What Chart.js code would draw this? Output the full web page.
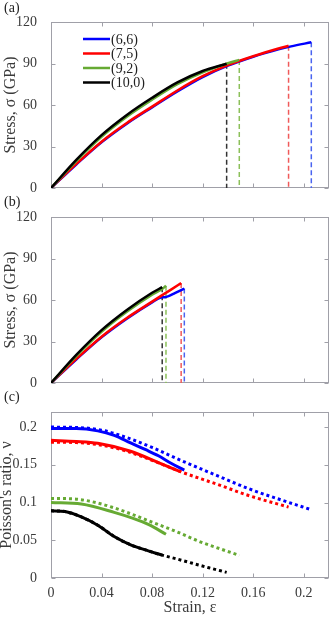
<!DOCTYPE html>
<html>
<head>
<meta charset="utf-8">
<script src="https://cdn.jsdelivr.net/npm/chart.js@4.4.1/dist/chart.umd.min.js"></script>
<style>
  html, body { margin: 0; padding: 0; background: #fff; }
  #wrap { position: relative; width: 330px; height: 618px; overflow: hidden; }
  canvas { position: absolute; left: 0; }
  .tag { position: absolute; left: 4px; font: 14px 'Liberation Serif', serif; color: #222; line-height: 14px; }
</style>
</head>
<body>
<div id="wrap">
  <canvas id="chartA" width="330" height="203" style="top:0"></canvas>
  <canvas id="chartB" width="330" height="198" style="top:200px"></canvas>
  <canvas id="chartC" width="330" height="223" style="top:395px"></canvas>
  <div class="tag" style="top:1px">(a)</div>
  <div class="tag" style="top:195px">(b)</div>
  <div class="tag" style="top:390px">(c)</div>
</div>
<script>
  'use strict';

  // ---- data ----
  const TUBES = ['(6,6)', '(7,5)', '(9,2)', '(10,0)'];
  const COLORS = ['#0000ff', '#ff0000', '#66aa33', '#000000'];
  const DASH_COLORS = ['#4a64f0', '#f05a5a', '#8cc05a', '#333333'];

  const X_TICKS = [0, 0.04, 0.08, 0.12, 0.16, 0.2];
  const X_TICK_LABELS = ['0', '0.04', '0.08', '0.12', '0.16', '0.2'];
  const STRESS_TICKS = [0, 30, 60, 90, 120];
  const NU_TICKS = [0, 0.05, 0.1, 0.15, 0.2];
  const NU_TICK_LABELS = ['0', '0.05', '0.1', '0.15', '0.2'];

  // (a) stress-strain
  const A_EPS_66 = [0, 0.02, 0.04, 0.06, 0.08, 0.10, 0.12, 0.14, 0.16, 0.18, 0.19, 0.206];
  const A_SIG_66 = [0, 17, 33, 46.5, 58.3, 69.8, 80.2, 88.4, 94.9, 100.2, 102.4, 105.3];
  const A_EPS_75 = [0, 0.02, 0.04, 0.06, 0.08, 0.10, 0.12, 0.14, 0.16, 0.18, 0.188];
  const A_SIG_75 = [0, 17.4, 33.5, 47, 58.8, 70.5, 80.8, 88.8, 95.2, 100.8, 102.8];
  const A_EPS_92 = [0, 0.02, 0.04, 0.06, 0.08, 0.10, 0.12, 0.14, 0.149];
  const A_SIG_92 = [0, 19.5, 37, 51.5, 63.8, 75, 83.6, 90.2, 92.6];
  const A_EPS_100 = [0, 0.02, 0.04, 0.06, 0.08, 0.10, 0.12, 0.139];
  const A_SIG_100 = [0, 20.3, 38.2, 52.8, 65.2, 76.3, 84.6, 89.8];

  // (b) stress-strain
  const B_EPS_66 = [0, 0.02, 0.04, 0.06, 0.08, 0.087, 0.09, 0.093, 0.098, 0.103, 0.1055];
  const B_SIG_66 = [0, 17, 33, 46.5, 58.3, 61.8, 62, 62.8, 65, 67.2, 68.3];
  const B_EPS_75 = [0, 0.02, 0.04, 0.06, 0.08, 0.088, 0.095, 0.103];
  const B_SIG_75 = [0, 17.4, 33.5, 47, 58.8, 63.5, 67.5, 72.2];
  const B_EPS_92 = [0, 0.02, 0.04, 0.06, 0.08, 0.088, 0.091];
  const B_SIG_92 = [0, 19.5, 37, 51.5, 63.8, 68, 70.3];
  const B_EPS_100 = [0, 0.02, 0.04, 0.06, 0.08, 0.088];
  const B_SIG_100 = [0, 20.3, 38.2, 52.8, 65.2, 69.3];

  // (c) Poisson's ratio, solid = case (b), dotted = case (a)
  const C_EPS_66 = [0, 0.02, 0.037, 0.05, 0.063, 0.075, 0.085, 0.095, 0.1055];
  const C_NU_66 = [0.198, 0.198, 0.195, 0.189, 0.179, 0.17, 0.162, 0.152, 0.143];
  const C_EPS_75 = [0, 0.02, 0.037, 0.063, 0.085, 0.095, 0.103];
  const C_NU_75 = [0.1825, 0.181, 0.1785, 0.168, 0.153, 0.146, 0.1405];
  const C_EPS_92 = [0, 0.024, 0.05, 0.065, 0.077, 0.091];
  const C_NU_92 = [0.1, 0.098, 0.087, 0.079, 0.071, 0.058];
  const C_EPS_100 = [0, 0.011, 0.024, 0.037, 0.05, 0.063, 0.077, 0.088];
  const C_NU_100 = [0.089, 0.088, 0.081, 0.07, 0.055, 0.044, 0.036, 0.0303];

  const CD_EPS_66 = [0, 0.02, 0.04, 0.06, 0.08, 0.104, 0.131, 0.157, 0.183, 0.206];
  const CD_NU_66 = [0.2, 0.1995, 0.196, 0.186, 0.173, 0.155, 0.136, 0.118, 0.103, 0.0905];
  const CD_EPS_75 = [0, 0.02, 0.04, 0.06, 0.08, 0.104, 0.131, 0.157, 0.188];
  const CD_NU_75 = [0.18, 0.1795, 0.176, 0.168, 0.156, 0.14, 0.1245, 0.109, 0.094];
  const CD_EPS_92 = [0, 0.02, 0.04, 0.06, 0.08, 0.1, 0.118, 0.135, 0.149];
  const CD_NU_92 = [0.1055, 0.1045, 0.098, 0.087, 0.074, 0.061, 0.048, 0.038, 0.03];
  const CD_EPS_100 = [0, 0.011, 0.024, 0.037, 0.05, 0.063, 0.077, 0.088, 0.1, 0.112, 0.125, 0.139];
  const CD_NU_100 = [0.089, 0.088, 0.081, 0.07, 0.055, 0.044, 0.036, 0.0303, 0.025, 0.0195, 0.0135, 0.0075];

  // ---- helpers ----
  const FONT = "'Liberation Serif', 'Times New Roman', serif";
  const TEXT = '#3a3a3a';
  const AXIS = '#a0a0a8';

  const pts = (xs, ys) => xs.map((x, i) => ({ x, y: ys[i] }));

  // Boxed axes with inward tick marks on all four sides.
  const frame = {
    id: 'frame',
    beforeDatasetsDraw(chart) {
      const { ctx, chartArea: a, scales } = chart;
      const L = Math.round(a.left) + 0.5, R = Math.round(a.right) - 0.5;
      const T = Math.round(a.top) + 0.5, B = Math.round(a.bottom) - 0.5;
      ctx.save();
      ctx.strokeStyle = AXIS;
      ctx.lineWidth = 1;
      ctx.strokeRect(L, T, R - L, B - T);
      ctx.beginPath();
      scales.x.ticks.forEach((t) => {
        const px = Math.round(scales.x.getPixelForValue(t.value)) + 0.5;
        ctx.moveTo(px, B); ctx.lineTo(px, B - 4);
        ctx.moveTo(px, T); ctx.lineTo(px, T + 4);
      });
      scales.y.ticks.forEach((t) => {
        const py = Math.round(scales.y.getPixelForValue(t.value)) + 0.5;
        ctx.moveTo(L, py); ctx.lineTo(L + 4, py);
        ctx.moveTo(R, py); ctx.lineTo(R - 4, py);
      });
      ctx.stroke();
      ctx.restore();
    },
  };

  // x-axis title centred under the plot box (panel c only)
  const strainTitle = {
    id: 'strainTitle',
    afterDraw(chart) {
      const { ctx, chartArea: a } = chart;
      ctx.save();
      ctx.font = '16px ' + FONT;
      ctx.fillStyle = TEXT;
      ctx.textAlign = 'center';
      ctx.textBaseline = 'middle';
      ctx.fillText('Strain, ε', (a.left + a.right) / 2, a.bottom + 30);
      ctx.restore();
    },
  };

  // Legend drawn inside panel (a), upper left.
  const insideLegend = {
    id: 'insideLegend',
    afterDraw(chart) {
      const { ctx } = chart;
      ctx.save();
      ctx.font = '14px ' + FONT;
      ctx.textBaseline = 'middle';
      TUBES.forEach((name, i) => {
        const y = 39 + i * 14.5;
        ctx.strokeStyle = COLORS[i];
        ctx.lineWidth = 2.5;
        ctx.beginPath();
        ctx.moveTo(83, y); ctx.lineTo(110, y);
        ctx.stroke();
        ctx.fillStyle = '#222';
        ctx.fillText(name, 111, y + 1);
      });
      ctx.restore();
    },
  };

  function xScale(showLabels, height) {
    return {
      type: 'linear',
      min: 0,
      max: 0.22,
      afterBuildTicks: (s) => { s.ticks = X_TICKS.map((v) => ({ value: v })); },
      afterFit: (s) => { s.height = height; },
      grid: { display: false },
      border: { display: false },
      ticks: {
        display: showLabels,
        padding: -1,
        color: TEXT,
        font: { family: FONT, size: 14 },
        callback: (v) => X_TICK_LABELS[X_TICKS.indexOf(v)],
      },
    };
  }

  function yScale(max, values, labels, title, lineHeight, pad) {
    return {
      type: 'linear',
      min: 0,
      max,
      afterBuildTicks: (s) => { s.ticks = values.map((v) => ({ value: v })); },
      afterFit: (s) => { s.width = 51; },
      grid: { display: false },
      border: { display: false },
      ticks: {
        padding: 6,
        color: TEXT,
        font: { family: FONT, size: 14 },
        callback: (v) => labels[values.indexOf(v)],
      },
      title: {
        display: true,
        text: title,
        color: TEXT,
        font: { family: FONT, size: 16, lineHeight },
        padding: { top: pad, bottom: 0 },
      },
    };
  }

  function stressSets(series) {
    const sets = [];
    series.forEach(([xs, ys], i) => {
      const n = xs.length - 1;
      sets.push({
        data: pts(xs, ys),
        borderColor: COLORS[i],
        borderWidth: 2.5,
        pointRadius: 0,
        cubicInterpolationMode: 'monotone',
        order: 10 - i,
      });
      // fracture drop at the last point
      sets.push({
        data: [{ x: xs[n], y: ys[n] }, { x: xs[n], y: 0 }],
        borderColor: DASH_COLORS[i],
        borderWidth: 1.5,
        borderDash: [5, 3],
        pointRadius: 0,
        order: 20,
      });
    });
    return sets;
  }

  function baseOptions(scales, padTop) {
    return {
      responsive: false,
      animation: false,
      events: [],
      layout: { padding: { top: padTop, right: 1, left: 0, bottom: 0 } },
      plugins: { legend: { display: false }, tooltip: { enabled: false } },
      scales,
    };
  }

  Chart.defaults.font.family = FONT;

  new Chart(document.getElementById('chartA'), {
    type: 'line',
    data: {
      datasets: stressSets([
        [A_EPS_66, A_SIG_66],
        [A_EPS_75, A_SIG_75],
        [A_EPS_92, A_SIG_92],
        [A_EPS_100, A_SIG_100],
      ]),
    },
    options: baseOptions({
      x: xScale(false, 15),
      y: yScale(120, STRESS_TICKS, STRESS_TICKS.map(String), 'Stress, σ (GPa)', 1.2, 1),
    }, 22),
    plugins: [frame, insideLegend],
  });

  new Chart(document.getElementById('chartB'), {
    type: 'line',
    data: {
      datasets: stressSets([
        [B_EPS_66, B_SIG_66],
        [B_EPS_75, B_SIG_75],
        [B_EPS_92, B_SIG_92],
        [B_EPS_100, B_SIG_100],
      ]),
    },
    options: baseOptions({
      x: xScale(false, 15),
      y: yScale(120, STRESS_TICKS, STRESS_TICKS.map(String), 'Stress, σ (GPa)', 1.2, 1),
    }, 17),
    plugins: [frame],
  });

  const solid = [[C_EPS_66, C_NU_66], [C_EPS_75, C_NU_75], [C_EPS_92, C_NU_92], [C_EPS_100, C_NU_100]];
  const dotted = [[CD_EPS_66, CD_NU_66], [CD_EPS_75, CD_NU_75], [CD_EPS_92, CD_NU_92], [CD_EPS_100, CD_NU_100]];
  const nuSets = [];
  dotted.forEach(([xs, ys], i) => {
    nuSets.push({
      data: pts(xs, ys),
      borderColor: COLORS[i],
      borderWidth: 3,
      borderDash: [3, 3],
      borderCapStyle: 'butt',
      pointRadius: 0,
      cubicInterpolationMode: 'monotone',
      order: 20 - i,
    });
  });
  solid.forEach(([xs, ys], i) => {
    nuSets.push({
      data: pts(xs, ys),
      borderColor: COLORS[i],
      borderWidth: 3,
      pointRadius: 0,
      cubicInterpolationMode: 'monotone',
      order: 10 - i,
    });
  });

  new Chart(document.getElementById('chartC'), {
    type: 'line',
    data: { datasets: nuSets },
    options: baseOptions({
      x: xScale(true, 40),
      y: yScale(0.22, NU_TICKS, NU_TICK_LABELS, "Poisson's ratio, ν", 0.9, 0),
    }, 17),
    plugins: [frame, strainTitle],
  });
</script>
</body>
</html>
